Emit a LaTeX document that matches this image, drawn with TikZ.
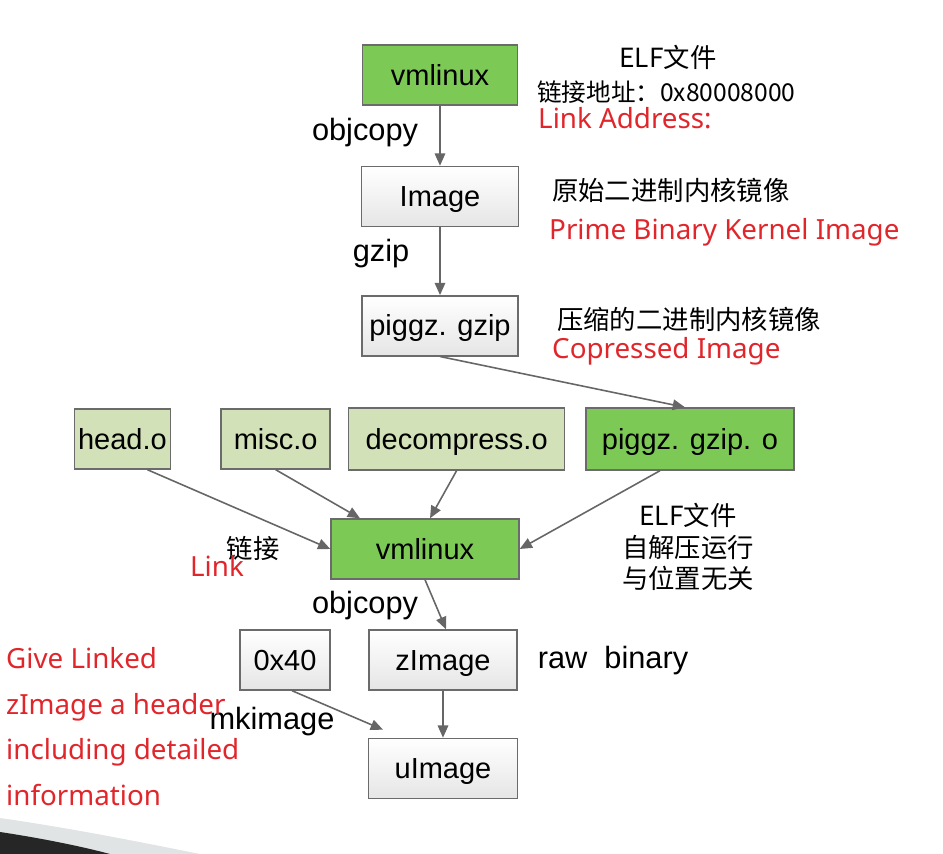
\documentclass[tikz,border=0pt]{standalone}
\usepackage{fontspec}
\setmainfont{Liberation Sans}
\newfontfamily\cjk{Noto Sans CJK SC}
\newfontfamily\notefont{Noto Sans}
\usetikzlibrary{arrows.meta,positioning}
\definecolor{elfgreen}{HTML}{7DC955}
\definecolor{objgreen}{HTML}{D3E1B8}
\definecolor{boxedge}{HTML}{6B6B6B}
\definecolor{flowgray}{HTML}{666666}
\definecolor{notered}{HTML}{E0262B}

\begin{document}
\begin{tikzpicture}[
    x=0.2mm, y=-0.2mm,
    every node/.style={font=\fontsize{17.5}{20}\selectfont},
    file/.style={draw=boxedge, line width=0.8pt, minimum height=12mm, inner sep=2pt,
                 text height=14pt, text depth=2.6pt, font=\fontsize{16.5}{19}\selectfont},
    raw/.style={file, top color=white, bottom color=black!10},
    elf/.style={file, fill=elfgreen},
    obj/.style={file, fill=objgreen},
    note/.style={font=\cjk\fontsize{15}{18}\selectfont},
    remark/.style={font=\notefont\fontsize{15.8}{18}\selectfont, text=notered},
    flow/.style={draw=flowgray, line width=0.9pt, -{Triangle[length=7pt,width=6pt]}}
]
\useasboundingbox (0,0) rectangle (943,854);

% build chain of the kernel image
\node[elf, minimum width=31mm] (vmlinux) at (440,75) {vmlinux};
\node[raw, minimum width=31.4mm, below=12mm of vmlinux] (image) {Image};
\node[raw, minimum width=31.2mm, below=13.6mm of image] (piggz) {piggz. gzip};

% objects linked together
\node[elf, minimum width=41.6mm, minimum height=12.4mm] (piggzo) at (690,439) {piggz. gzip. o};
\node[obj, minimum width=43.2mm, minimum height=12.4mm, left=4mm of piggzo] (decomp) {decompress.o};
\node[obj, minimum width=21.8mm, left=3.4mm of decomp] (misc) {misc.o};
\node[obj, minimum width=18.4mm, left=9.9mm of misc] (head) {head.o};

\node[elf, minimum width=37.6mm] (vmlinuxz) at (425,549) {vmlinux};
\node[raw, minimum width=29.6mm] (zimage) at (443,660) {zImage};
\node[raw, minimum width=18mm] (header) at (285,660) {0x40};
\node[raw, minimum width=29.8mm, below=9.4mm of zimage] (uimage) {uImage};

\draw[flow] (vmlinux) -- (image);
\draw[flow] (image) -- (piggz);
\draw[flow] (piggz.south) -- ([xshift=-1mm]piggzo.north);
\draw[flow] ([xshift=5mm]head.south) -- (vmlinuxz.west);
\draw[flow] (misc.south) -- ([xshift=-13mm]vmlinuxz.north);
\draw[flow] (decomp.south) -- ([xshift=1mm]vmlinuxz.north);
\draw[flow] ([xshift=-6mm]piggzo.south) -- (vmlinuxz.east);
\draw[flow] (vmlinuxz.south) -- ([xshift=0.6mm]zimage.north);
\draw[flow] (zimage) -- (uimage);
\draw[flow] ([xshift=1.4mm]header.south) -- ([xshift=-12mm,yshift=1.6mm]uimage.north);

% tool names
\node (objcopyA) at (365,133) {objcopy};
\node (gziptool) at (381,254) {gzip};
\node (objcopyB) at (365,606) {objcopy};
\node (mkimage) at (272,722) {mkimage};
\node (rawbin) at (613,661) {raw~~binary};

% notes
\node[note] (elfA) at (668,57) {ELF文件};
\node[note, font=\cjk\fontsize{14}{17}\selectfont, anchor=west] (linkaddr) at (531,92) {链接地址：0x80008000};
\node[remark, anchor=west] (linkaddrEn) at (532,118) {Link Address:};
\node[note, anchor=west] (primeCn) at (546,190) {原始二进制内核镜像};
\node[remark, anchor=west] (primeEn) at (543,232) {Prime Binary Kernel Image};
\node[note, anchor=west] (compCn) at (551,319) {压缩的二进制内核镜像};
\node[remark, anchor=west] (compEn) at (546,351) {Copressed Image};
\node[note] (linkCn) at (253,548) {链接};
\node[remark] (linkEn) at (217,566) {Link};
\node[note, align=center, font=\cjk\fontsize{15}{18}\selectfont] (elfB) at (688,547) {ELF文件\\自解压运行\\与位置无关};
\node[remark, align=left, anchor=north west, font=\notefont\fontsize{15.8}{26}\selectfont] (headerNote) at (0,641)
    {Give Linked\\zImage a header\\including detailed\\information};

% page curl in the corner
\fill[cyan!10!gray!25] (0,818) .. controls (70,828) and (140,842) .. (200,854) -- (0,854) -- cycle;
\fill[black!85] (0,832) .. controls (40,838) and (80,846) .. (110,854) -- (0,854) -- cycle;

\end{tikzpicture}
\end{document}
